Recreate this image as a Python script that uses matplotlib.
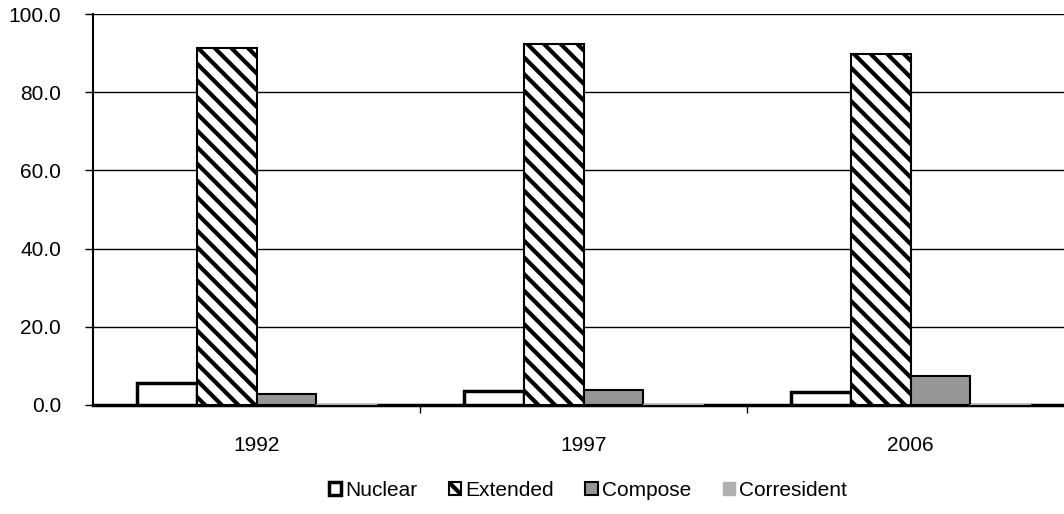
import numpy as np
from matplotlib import pyplot as plt

plt.rcParams['font.family'] = ['Liberation Sans', 'DejaVu Sans']
plt.rcParams['hatch.linewidth'] = 3

years = ['1992', '1997', '2006']
nuclear = [5.6, 3.5, 3.2]
extended = [91.2, 92.2, 89.7]
compose = [2.9, 3.8, 7.3]
corresident = [0.2, 0.2, 0.2]

fig = plt.figure(figsize=(10.64, 5.14), dpi=100)
ax = fig.add_axes([93/1064, 1-405/514, 981/1064, 391/514])

x = np.arange(len(years))
w = 0.183
ax.bar(x - 1.5*w, nuclear, w, facecolor='white', edgecolor='black', lw=2.5, label='Nuclear', zorder=3)
ax.bar(x - 0.5*w, extended, w, facecolor='white', edgecolor='black', lw=1.5, hatch='\\\\', label='Extended', zorder=3)
ax.bar(x + 0.5*w, compose, w, facecolor='#969696', edgecolor='black', lw=1.5, label='Compose', zorder=3)
ax.bar(x + 1.5*w, corresident, w, facecolor='#b0b0b0', edgecolor='#b0b0b0', lw=1, label='Corresident', zorder=3)

ax.set_xlim(-0.5, 2.5)
ax.set_ylim(0, 100)
ax.set_yticks(np.arange(0, 101, 20))
ax.set_yticklabels([f'{v:.1f}' for v in np.arange(0, 101, 20)], fontsize=15)
ax.set_xticks(x)
ax.set_xticklabels(years, fontsize=15)
ax.set_xticks([0.5, 1.5], minor=True)
ax.tick_params(axis='x', which='major', length=0, pad=22)
ax.tick_params(axis='x', which='minor', length=6, width=1, direction='out')
ax.tick_params(axis='y', length=6, width=1, direction='out', pad=17)
ax.yaxis.grid(True, color='black', lw=1, zorder=0)
ax.set_axisbelow(True)
for s in ['top', 'right']:
    ax.spines[s].set_visible(False)
ax.spines['left'].set_linewidth(1.5)
ax.spines['bottom'].set_linewidth(2.5)

fig.legend(loc='center', bbox_to_anchor=(588/1064, 1-490/514), ncol=4, frameon=False,
           fontsize=15, handlelength=0.6, handleheight=0.6, handletextpad=0.2, columnspacing=1.5)

plt.savefig('out.png', dpi=100)
